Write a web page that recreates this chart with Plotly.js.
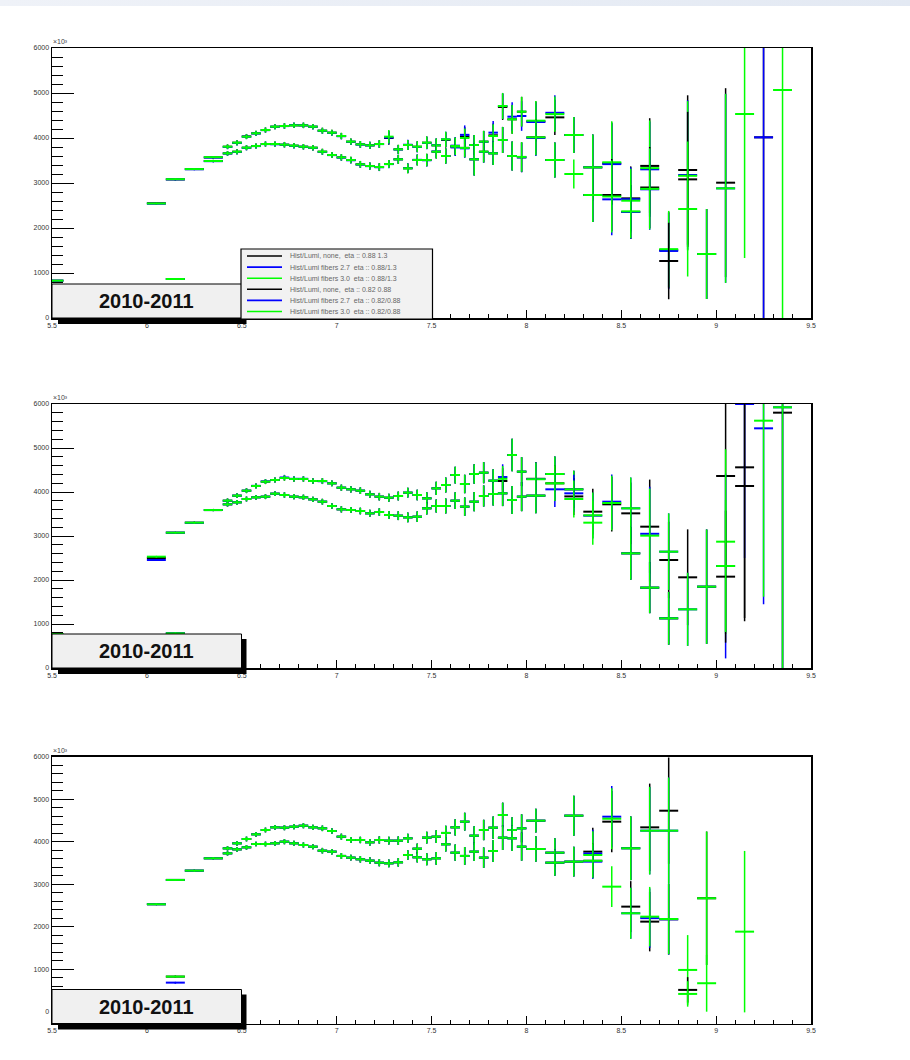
<!DOCTYPE html>
<html>
<head>
<meta charset="utf-8">
<script src="https://cdn.plot.ly/plotly-3.0.1.min.js"></script>
<style>
  html, body { margin: 0; padding: 0; background: #ffffff; }
  #band { position: absolute; left: 0; top: 0; width: 910px; height: 6px;
          background: linear-gradient(90deg, #eff2f8, #e3e9f3); z-index: 5; }
  #chart { width: 910px; height: 1060px; }
</style>
</head>
<body>
<div id="band"></div>
<div id="chart"></div>
<script>
// ---- binning (bin centre and half width) ----
const binCenter = [
  5.5, 6.05, 6.15, 6.25, 6.35,
  6.425, 6.475, 6.525, 6.575, 6.625, 6.675, 6.725, 6.775, 6.825, 6.875,
  6.925, 6.975, 7.025, 7.075, 7.125, 7.175, 7.225, 7.275, 7.325, 7.375,
  7.425, 7.475, 7.525, 7.575, 7.625, 7.675, 7.725, 7.775, 7.825, 7.875,
  7.925, 7.975,
  8.05, 8.15, 8.25, 8.35, 8.45, 8.55, 8.65, 8.75, 8.85, 8.95, 9.05, 9.15, 9.25, 9.35, 9.45
];
const binHalf = [
  0.06, 0.05, 0.05, 0.05, 0.05,
  0.025, 0.025, 0.025, 0.025, 0.025, 0.025, 0.025, 0.025, 0.025, 0.025,
  0.025, 0.025, 0.025, 0.025, 0.025, 0.025, 0.025, 0.025, 0.025, 0.025,
  0.025, 0.025, 0.025, 0.025, 0.025, 0.025, 0.025, 0.025, 0.025, 0.025,
  0.025, 0.025,
  0.05, 0.05, 0.05, 0.05, 0.05, 0.05, 0.05, 0.05, 0.05, 0.05, 0.05, 0.05, 0.05, 0.05, 0.05
];

// ---- legend labels ----
const legendLabels = [
  "Hist/Lumi, none,  eta :: 0.88 1.3",
  "Hist/Lumi fibers 2.7  eta :: 0.88/1.3",
  "Hist/Lumi fibers 3.0  eta :: 0.88/1.3",
  "Hist/Lumi, none,  eta :: 0.82 0.88",
  "Hist/Lumi fibers 2.7  eta :: 0.82/0.88",
  "Hist/Lumi fibers 3.0  eta :: 0.82/0.88"
];
const periodLabel = "2010-2011";
const exponentLabel = "\u00d710\u00b3";
const xTickVals = [5.5, 6, 6.5, 7, 7.5, 8, 8.5, 9, 9.5];
const xTickText = ["5.5", "6", "6.5", "7", "7.5", "8", "8.5", "9", "9.5"];
const yTickVals = [0, 1000, 2000, 3000, 4000, 5000, 6000];
const yTickText = ["0", "1000", "2000", "3000", "4000", "5000", "6000"];

// ---- panel 1 ----
const p1HiBlack = [
  null, 2550, 3080, 3310, 3570,
  3807, 3896, 4035, 4104, 4178, 4252, 4267, 4281, 4281, 4252,
  4163, 4119, 4044, 3919, 3859, 3837, 3867, 4000, 3748, 3844,
  3807, 3896, 3837, 3956, 3822, 4030, 3844, 3919, 4060, 4690,
  4415, 4585,
  4370, 4459, 4067, 3348, 3437, 2659, 3380, 1510, 3289, 1422, 3007, null, 4015, null, null];
const p1HiBlue = [
  null, 2540, 3080, 3305, 3565,
  3800, 3890, 4030, 4100, 4175, 4250, 4265, 4285, 4280, 4250,
  4160, 4115, 4040, 3915, 3855, 3835, 3865, 4010, 3745, 3850,
  3800, 3890, 3840, 3970, 3830, 4070, 3844, 3915, 4119, 4711,
  4474, 4489,
  4356, 4560, 4067, 3348, 3420, 2640, 3304, 1490, 3178, 1422, 2881, null, 4015, null, null];
const p1HiGreen = [
  null, 2545, 3085, 3310, 3575,
  3807, 3896, 4030, 4104, 4178, 4252, 4267, 4281, 4281, 4252,
  4163, 4119, 4044, 3919, 3859, 3837, 3867, 4030, 3748, 3844,
  3807, 3896, 3837, 3970, 3822, 4000, 3844, 3919, 4044, 4711,
  4415, 4585,
  4385, 4530, 4067, 3348, 3460, 2607, 3330, 1530, 3160, 1422, 2881, 4533, null, 5067, null];
const p1LoBlack = [
  830, null, 867, null, 3489,
  3659, 3696, 3785, 3822, 3867, 3867, 3852, 3830, 3807, 3785,
  3696, 3622, 3570, 3511, 3415, 3378, 3356, 3422, 3526, 3326,
  3511, 3511, 3696, 3600, 3800, 3780, 3526, 3696, 3659, 3956,
  3600, 3570,
  4015, 3511, null, 2733, 2733, 2356, 2900, 1267, 3081, null, null, null, null, null, null];
const p1LoBlue = [
  830, null, 867, null, 3485,
  3655, 3690, 3780, 3820, 3865, 3860, 3850, 3825, 3805, 3780,
  3690, 3620, 3565, 3505, 3410, 3375, 3350, 3420, 3526, 3330,
  3515, 3505, 3700, 3600, 3790, 3770, 3526, 3690, 3660, 3956,
  3600, 3570,
  4000, 3511, null, 2733, 2637, 2356, 2860, null, null, null, null, null, null, null, null];
const p1LoGreen = [
  830, null, 867, null, 3489,
  3659, 3696, 3785, 3822, 3867, 3867, 3852, 3830, 3807, 3785,
  3696, 3622, 3570, 3511, 3415, 3378, 3356, 3422, 3526, 3326,
  3511, 3511, 3696, 3600, 3810, 3780, 3526, 3696, 3659, 3956,
  3600, 3580,
  4015, 3511, 3200, 2733, 2700, 2370, 2870, null, 2422, null, null, null, null, null, null];
const p1HiErr = [
  0, 15, 15, 20, 25,
  50, 55, 55, 55, 55, 55, 60, 60, 60, 60,
  65, 65, 70, 70, 75, 80, 85, 150, 100, 110,
  120, 140, 150, 170, 190, 210, 220, 240, 260, 290,
  320, 330,
  440, 390, 400, 730, 910, 710, 1060, 850, 1660, 1000, 2100, 3200, 6500, 6500, 0];
const p1LoErr = [
  10, 0, 15, 0, 25,
  50, 55, 55, 55, 55, 55, 60, 60, 60, 60,
  65, 65, 70, 70, 75, 80, 85, 90, 100, 110,
  120, 140, 150, 170, 190, 210, 360, 240, 260, 290,
  320, 330,
  400, 390, 320, 600, 800, 600, 900, 850, 1500, 0, 0, 0, 0, 0, 0];

// ---- panel 2 ----
const p2HiBlack = [
  null, 2500, 3076, 3303, 3590,
  3803, 3917, 4030, 4136, 4235, 4273, 4318, 4295, 4295, 4250,
  4250, 4197, 4098, 4061, 4030, 3947, 3894, 3871, 3909, 3985,
  3932, 3856, 4083, 4159, 4386, 4182, 4409, 4439, 4257, 4250,
  4841, 4462,
  4300, 4409, 4061, 3553, 3720, 3515, 3212, 2455, 2061, 1848, 4364, 4561, null, 5803, null];
const p2HiBlue = [
  null, 2455, 3076, 3300, 3590,
  3800, 3917, 4030, 4140, 4240, 4273, 4330, 4300, 4300, 4250,
  4245, 4197, 4098, 4061, 4030, 3947, 3894, 3871, 3909, 3985,
  3932, 3856, 4083, 4159, 4386, 4182, 4409, 4439, 4257, 4340,
  4841, 4462,
  4295, 4409, 4061, 3462, 3780, 3629, 3050, 2644, null, 1848, 2318, 6000, 5447, 5925, null];
const p2HiGreen = [
  null, 2530, 3076, 3303, 3590,
  3803, 3917, 4030, 4136, 4235, 4273, 4318, 4295, 4295, 4250,
  4250, 4197, 4098, 4061, 4030, 3947, 3894, 3871, 3909, 3985,
  3932, 3856, 4083, 4159, 4386, 4182, 4409, 4439, 4257, 4300,
  4841, 4462,
  4290, 4409, 4061, 3470, 3750, 3629, 3008, 2644, null, 1848, 2871, null, 5621, 5925, null];
const p2LoBlack = [
  770, null, 788, null, null,
  3720, 3765, 3841, 3879, 3894, 3962, 3932, 3894, 3879, 3833,
  3780, 3682, 3606, 3591, 3568, 3515, 3545, 3477, 3462, 3424,
  3439, 3629, 3682, 3682, 3803, 3667, 3780, 3909, 3955, 3970,
  3818, 3894,
  3917, 4197, 3900, null, null, 2606, 1826, 1129, null, null, 2076, 4136, null, null, null];
const p2LoBlue = [
  null, null, 788, null, null,
  3720, 3765, 3841, 3879, 3894, 3962, 3932, 3894, 3879, 3833,
  3780, 3682, 3606, 3591, 3568, 3515, 3545, 3477, 3462, 3424,
  3439, 3629, 3682, 3682, 3803, 3667, 3780, 3909, 3955, 3970,
  3818, 3894,
  3917, 4061, 3970, null, null, 2606, 1826, 1129, 1333, null, null, null, null, null, null];
const p2LoGreen = [
  770, null, 788, null, null,
  3720, 3765, 3841, 3879, 3894, 3962, 3932, 3894, 3879, 3833,
  3780, 3682, 3606, 3591, 3568, 3515, 3545, 3477, 3462, 3424,
  3439, 3629, 3682, 3682, 3803, 3667, 3780, 3909, 3955, 3970,
  3818, 3894,
  3917, 4197, 3841, 3303, null, 2606, 1826, 1129, 1333, null, 2318, null, null, null, null];
const p2HiErr = [
  0, 15, 15, 20, 25,
  50, 55, 55, 55, 55, 55, 60, 60, 60, 60,
  65, 65, 70, 70, 75, 80, 85, 90, 100, 110,
  120, 140, 150, 170, 190, 210, 220, 240, 260, 290,
  370, 330,
  380, 400, 420, 520, 620, 700, 1070, 870, 1090, 1300, 2100, 3500, 4000, 6500, 0];
const p2LoErr = [
  10, 0, 15, 0, 0,
  50, 55, 55, 55, 55, 55, 60, 60, 60, 60,
  65, 65, 70, 70, 75, 80, 85, 90, 100, 110,
  120, 140, 150, 170, 190, 210, 220, 240, 260, 290,
  320, 330,
  400, 400, 420, 500, 0, 600, 580, 600, 830, 0, 1500, 3000, 0, 0, 0];

// ---- panel 3 ----
const p3HiBlack = [
  null, 2527, 3099, 3318, 3608,
  3843, 3961, 4063, 4173, 4275, 4337, 4330, 4353, 4376, 4337,
  4314, 4251, 4118, 4040, 4040, 3985, 4040, 4024, 4024, 4079,
  3835, 4095, 4118, 4205, 4337, 4471, 4141, 4275, 4330, 4628,
  4275, 4314,
  4494, 3741, 4612, 3765, 4471, 3845, 4337, 4729, null, 2668, null, null, null, null, null];
const p3HiBlue = [
  null, 2527, 3099, 3318, 3608,
  3843, 3961, 4063, 4173, 4275, 4337, 4330, 4353, 4376, 4337,
  4314, 4251, 4118, 4040, 4040, 3985, 4040, 4024, 4024, 4079,
  3835, 4095, 4118, 4205, 4337, 4471, 4141, 4275, 4330, 4628,
  4275, 4314,
  4494, 3741, 4612, 3720, 4588, 3845, 4259, 4259, null, null, null, null, null, null, null];
const p3HiGreen = [
  null, 2527, 3099, 3318, 3608,
  3843, 3961, 4063, 4173, 4275, 4337, 4330, 4353, 4376, 4337,
  4314, 4251, 4118, 4040, 4040, 3985, 4040, 4024, 4024, 4079,
  3835, 4095, 4118, 4205, 4337, 4471, 4141, 4275, 4330, 4628,
  4275, 4314,
  4494, 3741, 4612, 3687, 4540, 3845, 4259, 4259, 981, 2668, null, 1882, null, null, null];
const p3LoBlack = [
  null, null, 824, null, null,
  3725, 3819, 3867, 3945, 3945, 3961, 4000, 3961, 3922, 3882,
  3788, 3765, 3664, 3624, 3585, 3554, 3506, 3490, 3514, 3687,
  3632, 3585, 3608, 3938, 3741, 3664, 3765, 3624, 3780, 4094,
  4079, 3882,
  3828, 3506, 3530, 3550, null, 2471, 2118, 2173, 511, null, null, null, null, null, null];
const p3LoBlue = [
  null, null, 682, null, null,
  3725, 3819, 3867, 3945, 3945, 3961, 4000, 3961, 3922, 3882,
  3788, 3765, 3664, 3624, 3585, 3554, 3506, 3490, 3514, 3687,
  3632, 3585, 3608, 3938, 3741, 3664, 3765, 3624, 3780, 4094,
  4079, 3882,
  3828, 3506, 3530, 3530, null, 2315, 2200, 2173, null, null, null, null, null, null, null];
const p3LoGreen = [
  null, null, 824, null, null,
  3725, 3819, 3867, 3945, 3945, 3961, 4000, 3961, 3922, 3882,
  3788, 3765, 3664, 3624, 3585, 3554, 3506, 3490, 3514, 3687,
  3632, 3585, 3608, 3938, 3741, 3664, 3765, 3624, 3780, 4094,
  4079, 3882,
  3828, 3506, 3530, 3550, 2941, 2315, 2235, 2180, 416, 668, null, null, null, null, null];
const p3HiErr = [
  0, 15, 15, 20, 25,
  50, 55, 55, 55, 55, 55, 60, 60, 60, 60,
  65, 65, 70, 70, 75, 80, 85, 90, 100, 110,
  120, 140, 150, 170, 190, 210, 220, 240, 260, 290,
  300, 330,
  280, 340, 470, 560, 720, 750, 1030, 1250, 820, 1570, 0, 1900, 0, 0, 0];
const p3LoErr = [
  0, 0, 15, 0, 0,
  50, 55, 55, 55, 55, 55, 60, 60, 60, 60,
  65, 65, 70, 70, 75, 80, 85, 90, 100, 110,
  120, 140, 150, 170, 190, 210, 220, 240, 260, 290,
  300, 330,
  300, 310, 350, 400, 480, 600, 700, 830, 300, 670, 0, 0, 0, 0, 0];

// ---- drawing ----
const W = 910, H = 1060;
const px = v => v / W;            // pixel -> paper x
const py = v => 1 - v / H;        // pixel -> paper y

const BLACK = '#000000', BLUE = '#0000ff', GREEN = '#00ff00';
const frameLeft = 52, frameRight = 811;
const frames = [
  { top: 48,    bottom: 318,    yrange: [0, 6000] },
  { top: 404,   bottom: 668,    yrange: [0, 6000] },
  { top: 756.7, bottom: 1023.5, yrange: [-280, 6000] }
];

const panels = [
  [[p1HiBlack, p1HiErr, BLACK], [p1HiBlue, p1HiErr, BLUE], [p1HiGreen, p1HiErr, GREEN],
   [p1LoBlack, p1LoErr, BLACK], [p1LoBlue, p1LoErr, BLUE], [p1LoGreen, p1LoErr, GREEN]],
  [[p2HiBlack, p2HiErr, BLACK], [p2HiBlue, p2HiErr, BLUE], [p2HiGreen, p2HiErr, GREEN],
   [p2LoBlack, p2LoErr, BLACK], [p2LoBlue, p2LoErr, BLUE], [p2LoGreen, p2LoErr, GREEN]],
  [[p3HiBlack, p3HiErr, BLACK], [p3HiBlue, p3HiErr, BLUE], [p3HiGreen, p3HiErr, GREEN],
   [p3LoBlack, p3LoErr, BLACK], [p3LoBlue, p3LoErr, BLUE], [p3LoGreen, p3LoErr, GREEN]]
];

function histTrace(values, errs, color, k) {
  const xs = [], ys = [], ex = [], ey = [];
  values.forEach((v, i) => {
    if (v === null) return;
    xs.push(binCenter[i]); ys.push(v); ex.push(binHalf[i]); ey.push(errs[i]);
  });
  const sfx = k === 0 ? '' : String(k + 1);
  return {
    type: 'scatter', mode: 'markers', x: xs, y: ys,
    xaxis: 'x' + sfx, yaxis: 'y' + sfx,
    marker: { size: 2, color: color },
    error_x: { type: 'data', array: ex, visible: true, width: 0, thickness: 2, color: color },
    error_y: { type: 'data', array: ey, visible: true, width: 0, thickness: 1.5, color: color },
    showlegend: false, hoverinfo: 'skip'
  };
}

const traces = [];
panels.forEach((series, k) => series.forEach(s => traces.push(histTrace(s[0], s[1], s[2], k))));

const FONT = 'Liberation Sans, Arial, sans-serif';
const tickFont = { family: FONT, size: 7, color: '#333333' };
const layout = {
  width: W, height: H, autosize: false,
  margin: { l: 0, r: 0, t: 0, b: 0, pad: 0 },
  paper_bgcolor: '#ffffff', plot_bgcolor: '#ffffff',
  showlegend: false, shapes: [], annotations: []
};

frames.forEach((f, k) => {
  const sfx = k === 0 ? '' : String(k + 1);
  layout['xaxis' + sfx] = {
    domain: [px(frameLeft), px(frameRight)], anchor: 'y' + sfx, range: [5.5, 9.5],
    showline: true, mirror: true, linecolor: '#000', linewidth: 1.5,
    ticks: 'inside', ticklen: 8, tickwidth: 1, tickcolor: '#000',
    tickmode: 'array', tickvals: xTickVals, ticktext: xTickText, tickfont: tickFont,
    minor: { dtick: 0.1, tick0: 0, ticks: 'inside', ticklen: 4, tickwidth: 1, tickcolor: '#000', showgrid: false },
    showgrid: false, zeroline: false, fixedrange: true
  };
  layout['yaxis' + sfx] = {
    domain: [py(f.bottom), py(f.top)], anchor: 'x' + sfx, range: f.yrange,
    showline: true, mirror: true, linecolor: '#000', linewidth: 1.5,
    ticks: 'inside', ticklen: 22, tickwidth: 1, tickcolor: '#000',
    tickmode: 'array', tickvals: yTickVals, ticktext: yTickText, tickfont: tickFont,
    minor: { dtick: 200, tick0: 0, ticks: 'inside', ticklen: 11, tickwidth: 1, tickcolor: '#000', showgrid: false },
    showgrid: false, zeroline: false, fixedrange: true
  };
  // exponent marker above the frame
  layout.annotations.push({
    xref: 'paper', yref: 'paper', x: px(frameLeft - 1), y: py(f.top - 1),
    xanchor: 'left', yanchor: 'bottom', showarrow: false,
    text: exponentLabel, font: { family: FONT, size: 7, color: '#444' }
  });
  // period label box with its shadow
  const bTop = f.bottom - 34, bBot = f.bottom, bL = 52, bR = 241.5;
  layout.shapes.push({
    type: 'rect', xref: 'paper', yref: 'paper', layer: 'above',
    x0: px(bL + 6), x1: px(bR + 5), y0: py(bBot + 6), y1: py(bTop + 5),
    fillcolor: '#000', line: { width: 0 }
  });
  layout.shapes.push({
    type: 'rect', xref: 'paper', yref: 'paper', layer: 'above',
    x0: px(bL), x1: px(bR), y0: py(bBot), y1: py(bTop),
    fillcolor: '#f0f0f0', line: { color: '#000', width: 1 }
  });
  layout.annotations.push({
    xref: 'paper', yref: 'paper', x: px((bL + bR) / 2), y: py((bTop + bBot) / 2),
    xanchor: 'center', yanchor: 'middle', showarrow: false, text: periodLabel,
    font: { family: FONT, size: 20, color: '#111', weight: 'bold' }
  });
});

// legend of the first panel
const legL = 241, legR = 432.5, legT = 249, legB = 319;
layout.shapes.push({
  type: 'rect', xref: 'paper', yref: 'paper', layer: 'above',
  x0: px(legL), x1: px(legR), y0: py(legB), y1: py(legT),
  fillcolor: '#f2f2f2', line: { color: '#000', width: 1.2 }
});
const legColors = [BLACK, BLUE, GREEN, BLACK, BLUE, GREEN];
legendLabels.forEach((lab, i) => {
  const yy = 256 + i * 11.1;
  layout.shapes.push({
    type: 'line', xref: 'paper', yref: 'paper', layer: 'above',
    x0: px(247), x1: px(282), y0: py(yy), y1: py(yy),
    line: { color: legColors[i], width: 1.6 }
  });
  layout.annotations.push({
    xref: 'paper', yref: 'paper', x: px(288), y: py(yy),
    xanchor: 'left', yanchor: 'middle', showarrow: false, text: lab,
    font: { family: FONT, size: 7, color: '#666' }
  });
});

Plotly.newPlot('chart', traces, layout, { displayModeBar: false, staticPlot: true });
</script>
</body>
</html>
